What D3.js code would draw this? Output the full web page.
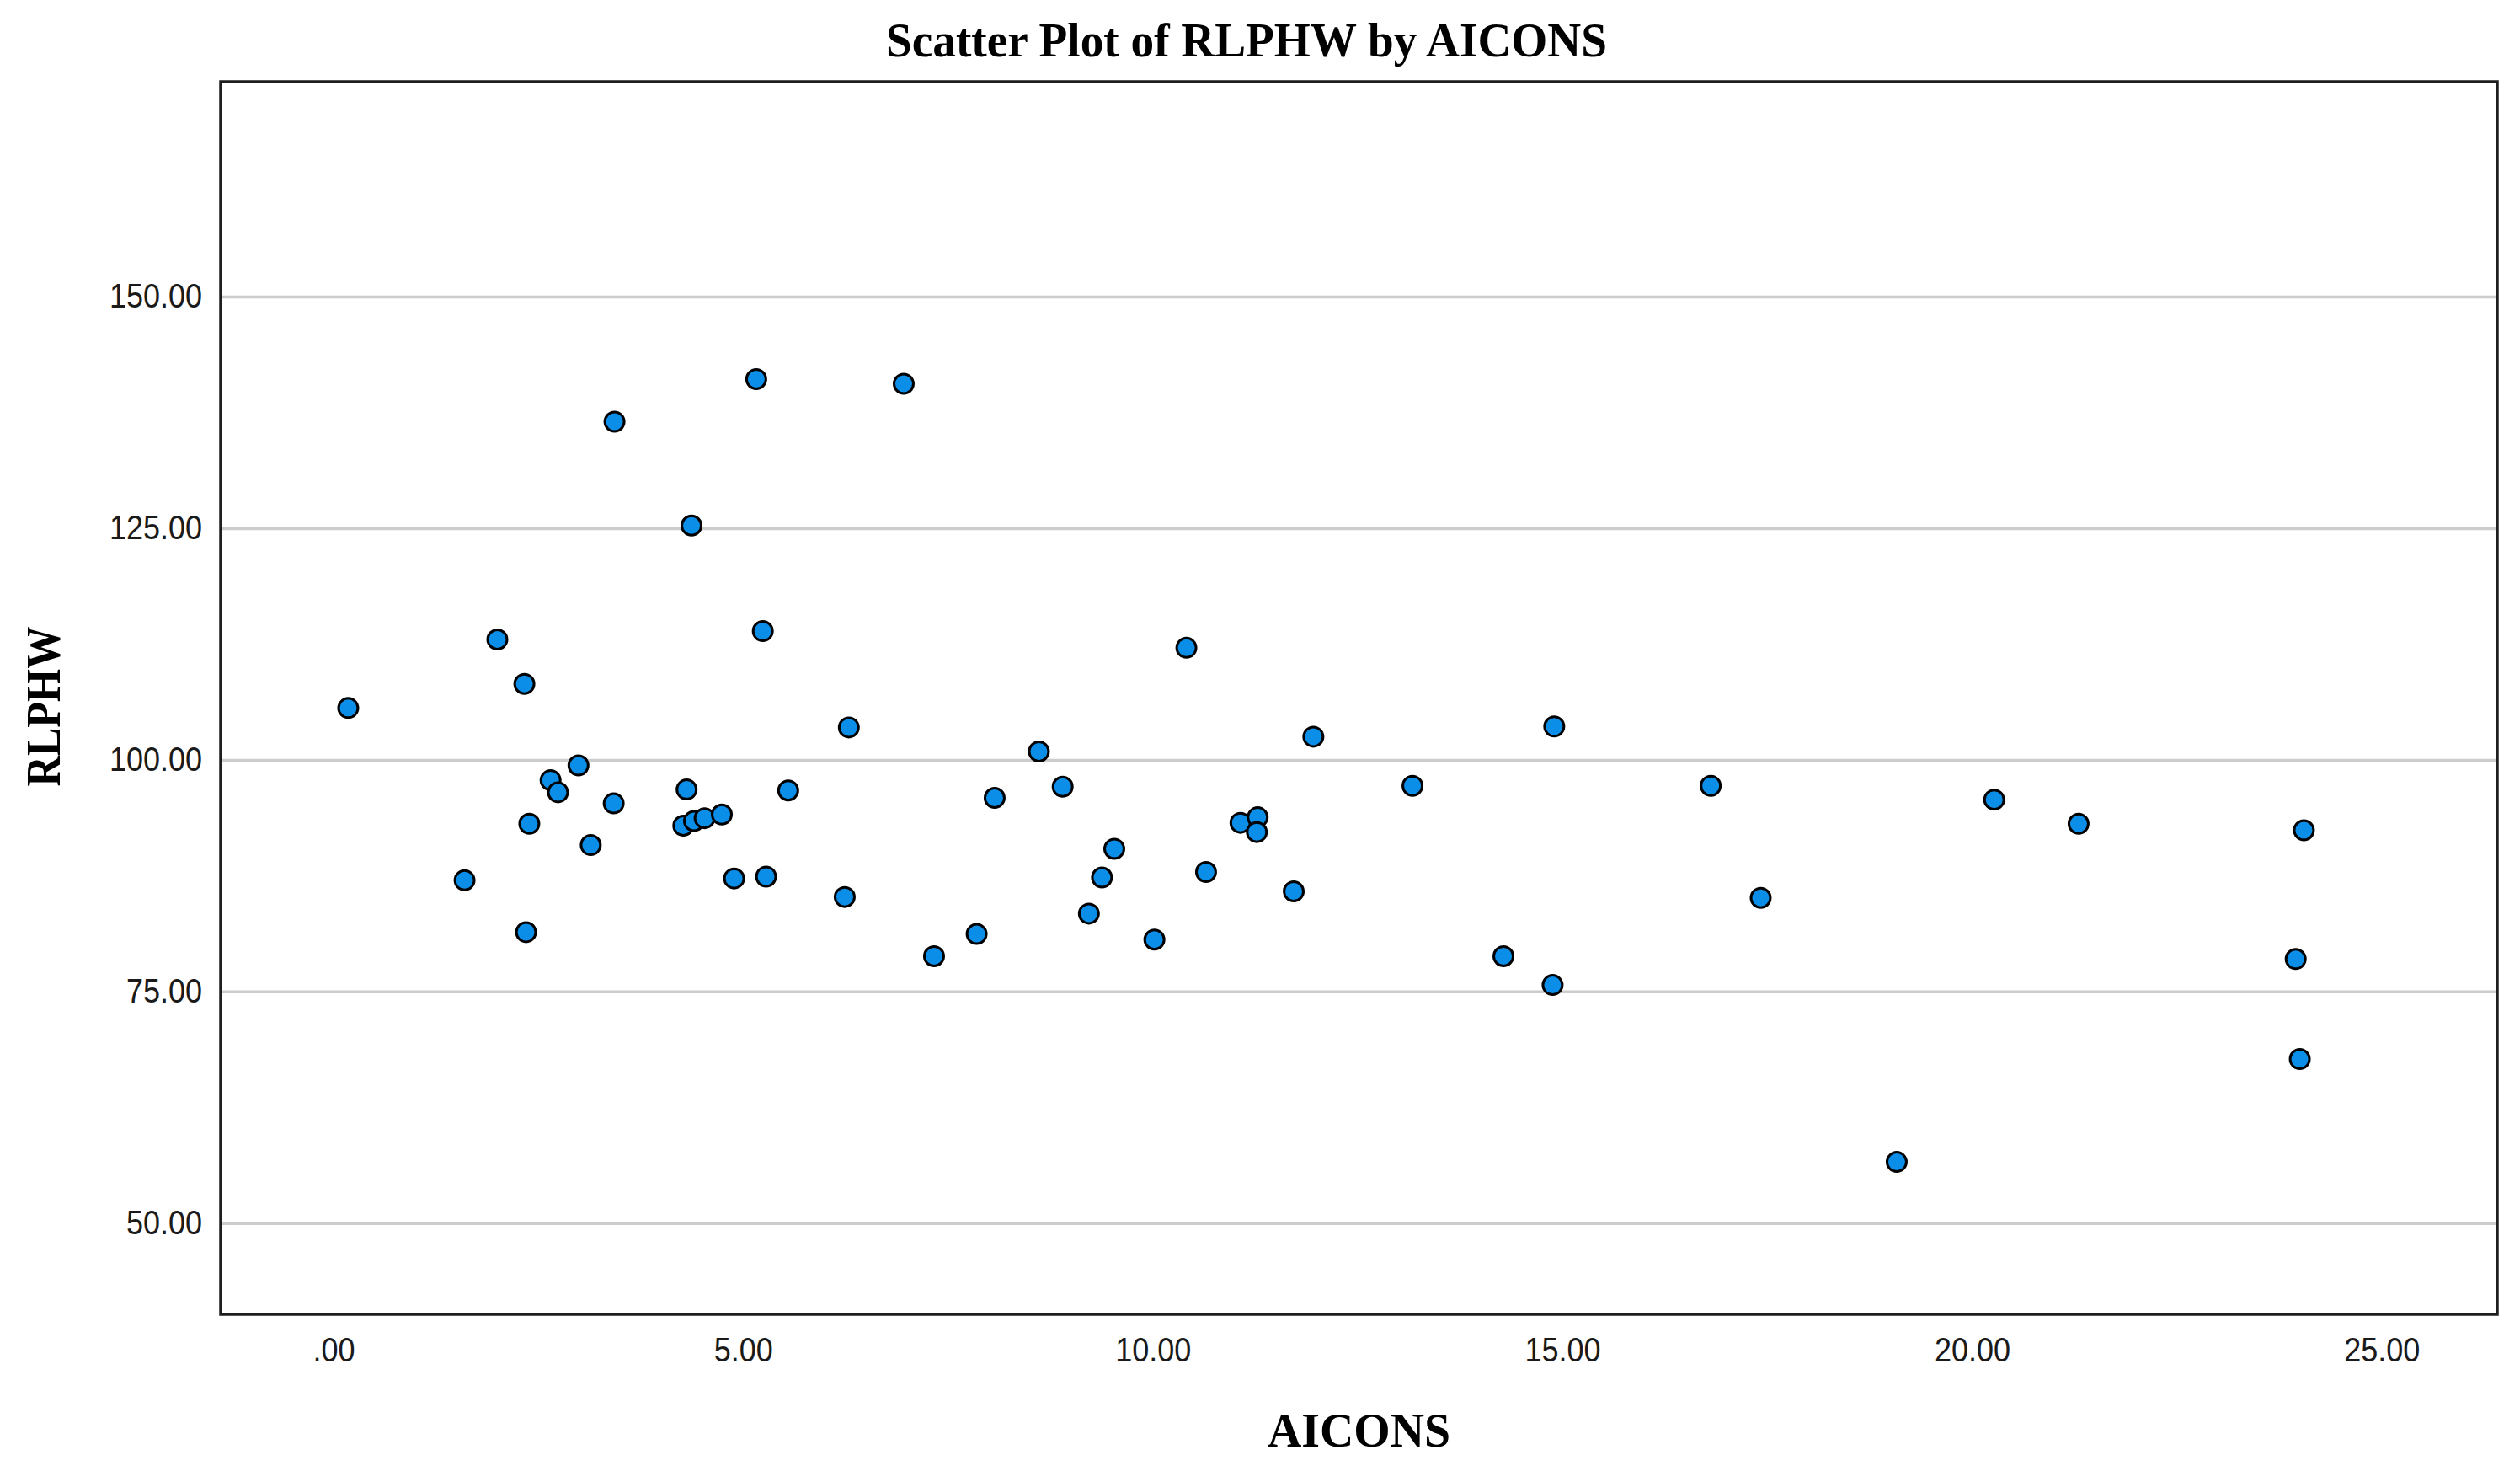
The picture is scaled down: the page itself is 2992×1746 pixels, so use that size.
<!DOCTYPE html>
<html>
<head>
<meta charset="utf-8">
<script src="https://cdn.jsdelivr.net/npm/d3@7"></script>
<style>
  body { margin: 0; background: #fff; }
  svg { display: block; }
</style>
</head>
<body>
<div id="chart"></div>
<script>
// values
const aicons = [
  0.18, 1.6, 2.0, 2.33, 2.39, 2.35, 2.65, 2.74, 2.99, 3.14, 3.42, 3.43,
  4.27, 4.31, 4.37, 4.4, 4.53, 4.74, 4.89, 5.16, 5.24, 5.28, 5.55,
  6.24, 6.29, 6.96, 7.33, 7.85, 8.07, 8.61, 8.9, 9.22, 9.38, 9.53,
  10.02, 10.41, 10.65, 11.07, 11.28, 11.27, 11.72, 11.96, 13.17,
  14.28, 14.9, 14.88, 16.81, 17.42, 19.08, 20.27, 21.3, 24.05, 23.95, 24.0
];
const rlphw = [
  105.6, 87.0, 113.0, 108.2, 93.1, 81.4, 97.8, 96.5, 99.4, 90.8, 95.3, 136.5,
  92.9, 96.8, 125.3, 93.4, 93.7, 94.1, 87.2, 141.1, 113.9, 87.4, 96.7,
  85.2, 103.5, 140.6, 78.8, 81.2, 95.9, 100.9, 97.1, 83.4, 87.3, 90.4,
  80.6, 112.1, 87.9, 93.2, 93.8, 92.2, 85.8, 102.5, 97.2,
  78.8, 103.6, 75.7, 97.2, 85.1, 56.6, 95.7, 93.1, 92.4, 78.5, 67.7
];
const xTicks = [0, 5, 10, 15, 20, 25];
const xTickLabels = [".00", "5.00", "10.00", "15.00", "20.00", "25.00"];
const yTicks = [50, 75, 100, 125, 150];
const yTickLabels = ["50.00", "75.00", "100.00", "125.00", "150.00"];
const xDomain = [-1.377, 26.41];
const yDomain = [40.15, 173.2];

const W = 2992, H = 1746;
var margin = { top: 97, right: 27, bottom: 186, left: 262 },
  width = W - margin.left - margin.right,
  height = H - margin.top - margin.bottom;

var svg = d3.select("#chart").append("svg")
  .attr("width", W)
  .attr("height", H);

var g = svg.append("g")
  .attr("transform", "translate(" + margin.left + "," + margin.top + ")");

var x = d3.scaleLinear().domain(xDomain).range([0, width]);
var y = d3.scaleLinear().domain(yDomain).range([height, 0]);

// horizontal grid lines
var yAxis = d3.axisLeft(y)
  .tickValues(yTicks)
  .tickSize(-width)
  .tickPadding(22)
  .tickFormat((d, i) => yTickLabels[i]);
var yAxisG = g.append("g").call(yAxis);
yAxisG.select(".domain").remove();
yAxisG.selectAll("line").attr("stroke", "#cccccc").attr("stroke-width", 3.5);

var xAxis = d3.axisBottom(x)
  .tickValues(xTicks)
  .tickSize(0)
  .tickPadding(28)
  .tickFormat((d, i) => xTickLabels[i]);
var xAxisG = g.append("g")
  .attr("transform", "translate(0," + height + ")")
  .call(xAxis);
xAxisG.select(".domain").remove();

g.selectAll(".tick text")
  .attr("font-family", "'Liberation Sans', Arial, sans-serif")
  .attr("font-size", 40)
  .attr("fill", "#1a1a1a")
  .each(function () {
    var len = this.getComputedTextLength();
    d3.select(this)
      .attr("textLength", len * 0.9)
      .attr("lengthAdjust", "spacingAndGlyphs");
  });
xAxisG.selectAll(".tick text").attr("dy", "0.71em");

// points
var pts = aicons.map((v, i) => [v, rlphw[i]]);
g.append("g")
  .selectAll("circle")
  .data(pts)
  .enter()
  .append("circle")
  .attr("cx", (d) => x(d[0]))
  .attr("cy", (d) => y(d[1]))
  .attr("r", 11.5)
  .attr("fill", "#0b8ee8")
  .attr("stroke", "#000")
  .attr("stroke-width", 3);

// frame
g.append("rect")
  .attr("x", 0)
  .attr("y", 0)
  .attr("width", width)
  .attr("height", height)
  .attr("fill", "none")
  .attr("stroke", "#1e1e1e")
  .attr("stroke-width", 3.5);

// title and axis titles
var serif = "'Liberation Serif', 'Times New Roman', serif";
svg.append("text")
  .attr("x", 1480)
  .attr("y", 67)
  .attr("text-anchor", "middle")
  .attr("font-family", serif)
  .attr("font-weight", "bold")
  .attr("font-size", 58)
  .attr("textLength", 856)
  .attr("lengthAdjust", "spacingAndGlyphs")
  .text("Scatter Plot of RLPHW by AICONS");

svg.append("text")
  .attr("x", margin.left + width / 2)
  .attr("y", 1717)
  .attr("text-anchor", "middle")
  .attr("font-family", serif)
  .attr("font-weight", "bold")
  .attr("font-size", 56)
  .attr("textLength", 217)
  .attr("lengthAdjust", "spacingAndGlyphs")
  .text("AICONS");

svg.append("text")
  .attr("transform", "translate(71," + (margin.top + height / 2 + 10) + ") rotate(-90)")
  .attr("text-anchor", "middle")
  .attr("font-family", serif)
  .attr("font-weight", "bold")
  .attr("font-size", 56)
  .attr("textLength", 190)
  .attr("lengthAdjust", "spacingAndGlyphs")
  .text("RLPHW");
</script>
</body>
</html>
